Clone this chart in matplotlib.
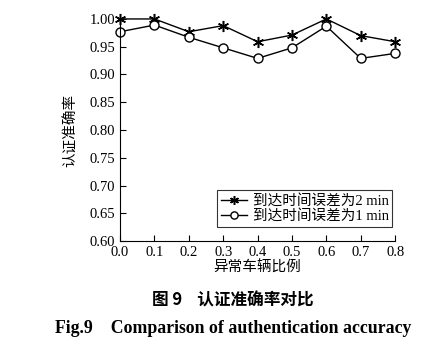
import matplotlib
matplotlib.use("Agg")
import matplotlib.pyplot as plt

x = [0.0, 0.1, 0.2, 0.3, 0.4, 0.5, 0.6, 0.7, 0.8]
acc_2min = [1.00, 1.00, 0.977, 0.988, 0.959, 0.971, 1.00, 0.970, 0.959]
acc_1min = [0.977, 0.989, 0.967, 0.948, 0.929, 0.948, 0.987, 0.929, 0.938]
labels = ["到达时间误差为2 min", "到达时间误差为1 min"]
xticks = [0.0, 0.1, 0.2, 0.3, 0.4, 0.5, 0.6, 0.7, 0.8]
yticks = [0.60, 0.65, 0.70, 0.75, 0.80, 0.85, 0.90, 0.95, 1.00]

fam = ['Liberation Serif', 'Noto Sans CJK SC']
plt.rcParams['font.family'] = fam

fig = plt.figure(figsize=(4.48, 3.51), dpi=100)
ax = fig.add_axes([0.268, 0.313, 0.614, 0.633])
ax.plot(x, acc_2min, color='black', lw=1.0, marker=(6, 2, 0), ms=8, mew=1.1,
        label=labels[0], clip_on=False)
ax.plot(x, acc_1min, color='black', lw=1.0, marker='o', ms=6.5, mfc='white', mew=1.0,
        label=labels[1], clip_on=False)
ax.set_xlim(0, 0.8)
ax.set_ylim(0.6, 1.0)
ax.set_xticks(xticks)
ax.set_xticklabels([f"{v:.1f}" for v in xticks])
ax.set_yticks(yticks)
ax.set_yticklabels([f"{v:.2f}" for v in yticks])
ax.spines['top'].set_visible(False)
ax.spines['right'].set_visible(False)
ax.tick_params(direction='in', length=4, labelsize=10.5, width=0.8)
ax.set_xlabel("异常车辆比例", fontsize=10.5, labelpad=1)
ax.set_ylabel("认证准确率", fontsize=10.5, labelpad=8)
leg = ax.legend(loc='lower right', bbox_to_anchor=(0.99, 0.065), fontsize=10.5,
                frameon=True, fancybox=False, edgecolor='black', handlelength=1.8,
                handletextpad=0.4, borderpad=0.25, labelspacing=0.1, borderaxespad=0.0,
                markerscale=0.8)
leg.get_frame().set_linewidth(0.8)

fig.text(0.52, 0.145, "图 9    认证准确率对比", ha='center', va='center',
         fontsize=12, fontweight='bold', family=['Noto Sans CJK SC', 'DejaVu Sans'])
fig.text(0.52, 0.065, "Fig.9    Comparison of authentication accuracy", ha='center',
         va='center', fontsize=12.8, fontweight='bold', family=fam)

fig.savefig("out.png", dpi=100)
